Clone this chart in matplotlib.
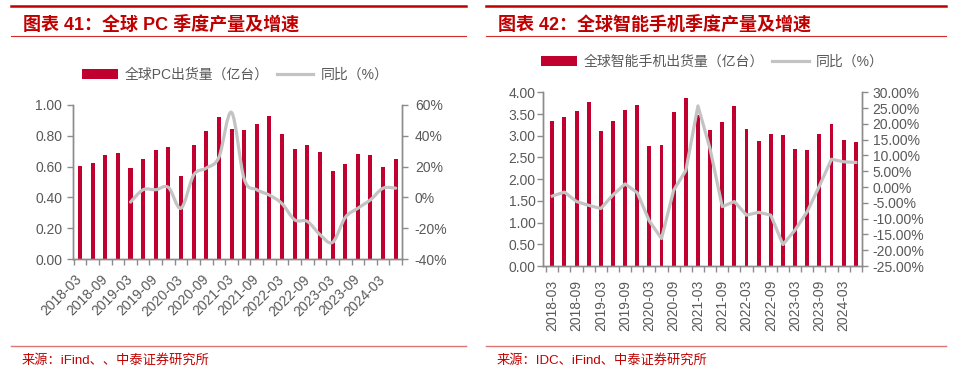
import numpy as np
import matplotlib
matplotlib.use("Agg")
import matplotlib.pyplot as plt
from matplotlib.path import Path
from matplotlib.patches import PathPatch, Patch
from matplotlib.lines import Line2D
from matplotlib.ticker import FuncFormatter, FixedLocator

plt.rcParams['font.family'] = ['Liberation Sans', 'Noto Sans CJK SC', 'DejaVu Sans']

# quarters shared by both charts
quarters = ["2018-03", "2018-06", "2018-09", "2018-12",
            "2019-03", "2019-06", "2019-09", "2019-12",
            "2020-03", "2020-06", "2020-09", "2020-12",
            "2021-03", "2021-06", "2021-09", "2021-12",
            "2022-03", "2022-06", "2022-09", "2022-12",
            "2023-03", "2023-06", "2023-09", "2023-12",
            "2024-03", "2024-06"]

# figure 41: global PC shipments (100M units) and yoy (%)
pc_ship = [0.605, 0.624, 0.675, 0.688, 0.588, 0.650, 0.707, 0.724,
           0.541, 0.741, 0.833, 0.919, 0.840, 0.838, 0.874, 0.927,
           0.808, 0.712, 0.739, 0.692, 0.571, 0.615, 0.684, 0.673,
           0.600, 0.650]
pc_yoy = [np.nan, np.nan, np.nan, np.nan, -3.0, 5.0, 5.0, 6.5,
          -7.0, 14.5, 19.0, 26.0, 55.0, 12.0, 5.0, 1.5,
          -4.0, -14.5, -15.5, -24.0, -29.0, -13.0, -7.0, -1.5,
          6.0, 6.0]

# figure 42: global smartphone shipments (100M units) and yoy (%)
phone_ship = [3.35, 3.42, 3.56, 3.78, 3.12, 3.33, 3.59, 3.70,
              2.76, 2.79, 3.55, 3.86, 3.48, 3.13, 3.32, 3.69,
              3.16, 2.89, 3.03, 3.01, 2.69, 2.66, 3.04, 3.27,
              2.90, 2.86]
phone_yoy = [-2.85, -1.6, -4.6, -5.8, -6.8, -2.5, 1.0, -1.8,
             -10.8, -16.3, -1.0, 5.2, 25.7, 12.1, -6.2, -4.6,
             -8.9, -8.0, -8.9, -18.2, -13.6, -7.8, 0.3, 8.8,
             8.0, 7.8]

BAR = '#C0002F'
GRAY_LINE = '#C3C3C3'
TXT = '#595959'
SPINE = '#8C8C8C'
RED = '#C00000'


def smooth_path(xs, ys):
    # bezier through the points, like an office "smoothed line"
    pts = np.column_stack([xs, ys])
    verts = [pts[0]]
    codes = [Path.MOVETO]
    for i in range(len(pts) - 1):
        p0 = pts[i - 1] if i > 0 else pts[i]
        p1, p2 = pts[i], pts[i + 1]
        p3 = pts[i + 2] if i + 2 < len(pts) else p2
        verts += [p1 + (p2 - p0) / 6, p2 - (p3 - p1) / 6, p2]
        codes += [Path.CURVE4] * 3
    return Path(verts, codes)


def style_axes(ax, ax2, xlim, lpad, rpad):
    for a in (ax, ax2):
        a.spines['top'].set_visible(False)
        for s in ('left', 'right', 'bottom'):
            a.spines[s].set_color(SPINE)
            a.spines[s].set_linewidth(1.0)
        a.tick_params(axis='y', colors=SPINE, labelcolor=TXT, labelsize=10,
                      length=4, width=1.0)
    ax.tick_params(axis='y', pad=lpad)
    ax2.tick_params(axis='y', pad=rpad)
    ax.set_xlim(*xlim)
    n = len(quarters)
    ax.xaxis.set_minor_locator(FixedLocator(np.arange(n + 1) - 0.5))
    ax.tick_params(axis='x', which='minor', length=4, width=1.0, color=SPINE)
    ax.set_xticks(np.arange(0, n, 2))


def panel(fig, rect, title, title_x, ship, yoy, ship_label, left_ylim, left_ticks,
          right_ylim, right_ticks, pct_fmt, smooth, xlim, rot, lpad, rpad,
          leg_xy, source, hline_x):
    ax = fig.add_axes(rect)
    x = np.arange(len(quarters))
    ax.bar(x, ship, width=0.32, color=BAR, zorder=2)
    ax.set_ylim(*left_ylim)
    ax.set_yticks(left_ticks)
    ax.yaxis.set_major_formatter(FuncFormatter(lambda v, p: f"{v:.2f}"))

    ax2 = ax.twinx()
    yoy = np.array(yoy, dtype=float)
    ok = ~np.isnan(yoy)
    if smooth:
        ax2.add_patch(PathPatch(smooth_path(x[ok], yoy[ok]), fill=False,
                                edgecolor=GRAY_LINE, lw=2.3, capstyle='round'))
    else:
        ax2.plot(x[ok], yoy[ok], color=GRAY_LINE, lw=2.3, solid_joinstyle='round')
    ax2.set_ylim(*right_ylim)
    ax2.set_yticks(right_ticks)
    ax2.yaxis.set_major_formatter(FuncFormatter(pct_fmt))

    style_axes(ax, ax2, xlim, lpad, rpad)
    labels = quarters[::2]
    if rot == 90:
        ax.set_xticklabels(labels, rotation=90, ha='center', va='top')
        ax.tick_params(axis='x', which='major', length=0, pad=10,
                       labelsize=10, labelcolor=TXT)
    else:
        ax.set_xticklabels(labels, rotation=45, ha='right', va='center',
                           rotation_mode='anchor')
        ax.tick_params(axis='x', which='major', length=0, pad=13,
                       labelsize=10, labelcolor=TXT)

    handles = [Patch(facecolor=BAR, edgecolor='none', label=ship_label),
               Line2D([], [], color=GRAY_LINE, lw=2.3, label='同比（%）')]
    fig.legend(handles=handles, loc='center', bbox_to_anchor=leg_xy, ncol=2,
               frameon=False, fontsize=10, labelcolor=TXT, handlelength=2.6,
               handleheight=0.65, handletextpad=0.5, columnspacing=0.6,
               borderaxespad=0)

    # header / footer decoration
    x0, x1 = hline_x
    fig.add_artist(Line2D([x0, x1], [1 - 6 / 373] * 2, color=RED, lw=1.8))
    fig.add_artist(Line2D([x0, x1], [1 - 36 / 373] * 2, color='#D42A2A', lw=0.8))
    fig.add_artist(Line2D([x0, x1], [1 - 346 / 373] * 2, color='#E07474', lw=1.0))
    fig.text(title_x, 1 - 24 / 373, title, color=RED, fontsize=13,
             fontweight='bold', va='center', ha='left')
    fig.text(title_x - 1 / 966, 1 - 360 / 373, source, color=RED, fontsize=9.5,
             va='center', ha='left')


fig = plt.figure(figsize=(9.66, 3.73), dpi=100)

panel(fig, [73.3 / 966, 1 - 259.3 / 373, 329 / 966, 154.6 / 373],
      '图表 41：全球 PC 季度产量及增速', 23 / 966,
      pc_ship, pc_yoy, '全球PC出货量（亿台）',
      (0, 1.0), np.arange(0, 1.01, 0.2),
      (-40, 60), np.arange(-40, 61, 20), lambda v, p: f"{v:.0f}%",
      True, (-0.53, 25.52), 45, 4, 5, (235 / 966, 1 - 75 / 373),
      '来源：iFind、、中泰证券研究所', (11 / 966, 466 / 966))

panel(fig, [543.3 / 966, 1 - 266 / 373, 319 / 966, 173.7 / 373],
      '图表 42：全球智能手机季度产量及增速', 498 / 966,
      phone_ship, phone_yoy, '全球智能手机出货量（亿台）',
      (0, 4.0), np.arange(0, 4.01, 0.5),
      (-25, 30), np.arange(-25, 31, 5), lambda v, p: f"{v:.2f}%",
      False, (-0.74, 25.54), 90, 1.5, 3.5, (712 / 966, 1 - 62 / 373),
      '来源：IDC、iFind、中泰证券研究所', (486 / 966, 946 / 966))

fig.savefig('out.png', dpi=100)
